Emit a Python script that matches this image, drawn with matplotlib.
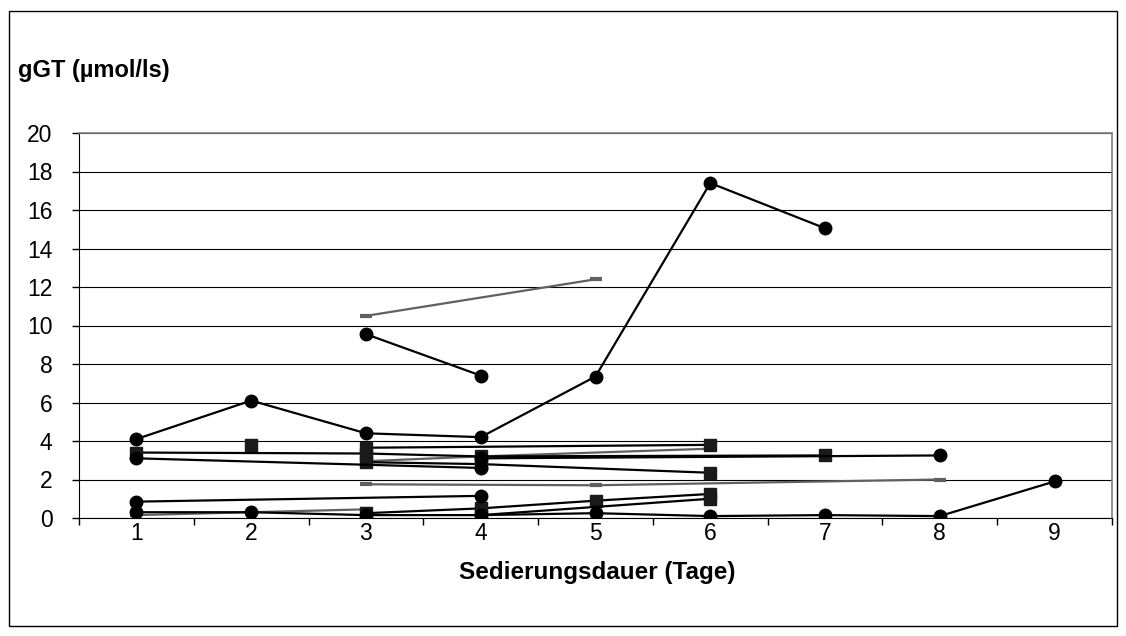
import numpy as np
import matplotlib as mpl
mpl.use('Agg')
import matplotlib.pyplot as plt
from matplotlib.patches import Rectangle

plt.rcParams['font.family'] = ['Liberation Sans', 'DejaVu Sans']

N = None
days = [1, 2, 3, 4, 5, 6, 7, 8, 9]

# black circles
circ_a = [4.1, 6.1, 4.4, 4.2, 7.35, 17.4, 15.05, N, N]
circ_b = [N, N, 9.55, 7.4, N, N, N, N, N]
circ_c = [3.1, N, N, 2.6, N, N, N, N, N]
circ_d = [0.85, N, N, 1.15, N, N, N, N, N]
circ_e = [0.3, 0.3, 0.15, 0.15, 0.25, 0.1, 0.15, 0.1, 1.9]
circ_f = [N, N, N, 3.1, N, N, N, 3.25, N]

# black squares
sq_a = [3.4, N, 3.35, 3.2, N, N, 3.25, N, N]
sq_b = [N, 3.8, N, N, N, N, N, N, N]
sq_c = [N, N, 3.65, N, N, 3.8, N, N, N]
sq_d = [N, N, 2.9, 2.8, N, 2.35, N, N, N]
sq_e = [N, N, 0.25, 0.5, 0.9, 1.25, N, N, N]
sq_f = [N, N, N, 0.15, N, 1.0, N, N, N]

# grey dashes
gr_a = [N, N, 10.5, N, 12.4, N, N, N, N]
gr_b = [N, N, 1.75, N, 1.7, N, N, 2.0, N]
gr_c = [0.15, N, 0.45, N, N, N, N, N, N]
gr_d = [N, N, 2.95, 3.2, N, 3.6, N, N, N]

yticks = np.arange(0, 21, 2)
FS = 16.5


def pts(vals):
    xs = [d for d, v in zip(days, vals) if v is not None]
    ys = [v for v in vals if v is not None]
    return xs, ys


W, H = 1126, 636
fig = plt.figure(figsize=(W / 100, H / 100), dpi=100)
ax = fig.add_axes([79 / W, (H - 518) / H, (1112 - 79) / W, (518 - 133) / H])

for s in [gr_a, gr_b, gr_c, gr_d]:
    x, y = pts(s)
    ax.plot(x, y, color='#606060', lw=1.6, marker='_', ms=8, mew=3, zorder=3)

for s in [sq_a, sq_b, sq_c, sq_d, sq_e, sq_f]:
    x, y = pts(s)
    ax.plot(x, y, color='black', lw=1.6, marker='s', ms=8, mfc='#1a1a1a', mec='#1a1a1a', zorder=4)

for s in [circ_a, circ_b, circ_c, circ_d, circ_e, circ_f]:
    x, y = pts(s)
    ax.plot(x, y, color='black', lw=1.6, marker='o', ms=9, zorder=5)

ax.set_xlim(0.5, 9.5)
ax.set_ylim(0, 20)
ax.set_yticks(yticks)
ax.set_yticklabels([str(v) for v in yticks], fontsize=FS)
ax.set_xticks(days)
ax.set_xticklabels([str(d) for d in days], fontsize=FS)
ax.set_xticks(np.arange(0.5, 9.6, 1), minor=True)
ax.tick_params(axis='x', which='major', length=0, pad=3)
ax.tick_params(axis='x', which='minor', length=5, width=1, color='black')
ax.tick_params(axis='y', length=5, width=1, pad=14)
ax.yaxis.grid(True, color='black', lw=0.8)
ax.set_axisbelow(True)
ax.spines['top'].set_color('#808080')
ax.spines['right'].set_color('#808080')
ax.spines['top'].set_linewidth(1.2)
ax.spines['right'].set_linewidth(1.2)
ax.spines['left'].set_color('black')
ax.spines['bottom'].set_color('black')

fig.text(597 / W, 1 - 572 / H, 'Sedierungsdauer (Tage)', fontsize=17.5, fontweight='bold',
         va='center', ha='center')
fig.text(18 / W, 1 - 71 / H, 'gGT (µmol/ls)', fontsize=17, fontweight='bold', va='center', ha='left')

fig.patches.append(Rectangle((9 / W, 1 - 626 / H), (1117 - 9) / W, (626 - 11) / H,
                             transform=fig.transFigure, fill=False, edgecolor='black', lw=1))

plt.savefig('out.png', dpi=100)
